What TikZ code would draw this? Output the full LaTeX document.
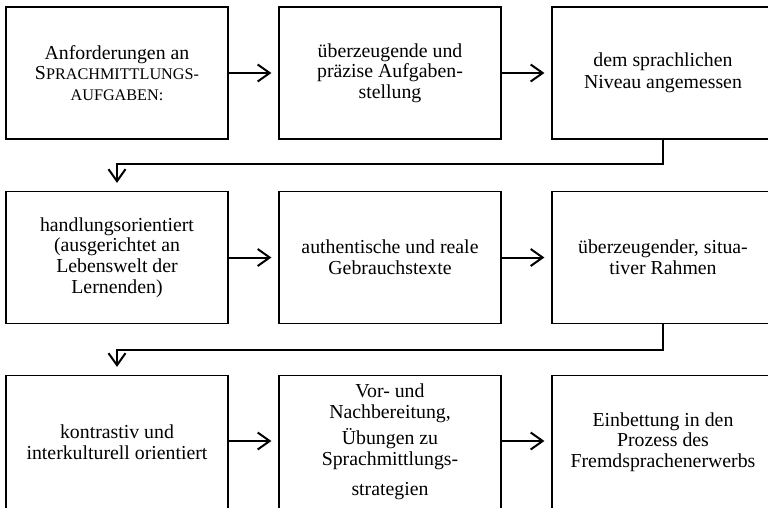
\documentclass[tikz,border=0pt]{standalone}
\usepackage{fontspec}
\setmainfont{Liberation Serif}
\usetikzlibrary{arrows.meta}
\begin{document}
\begin{tikzpicture}[x=1pt,y=-1pt,
  box/.style={draw, line width=1.2pt, minimum width=222pt, minimum height=132pt, inner sep=0pt, align=center, font=\fontsize{19.8}{20.6}\selectfont},
  conn/.style={line width=2pt, -{Straight Barb[length=12pt,width=17pt,line width=2pt]}},
  ]
\useasboundingbox (0,0) rectangle (768,507);
\clip (0,0) rectangle (768,507);
\newcommand{\smc}[1]{{\fontsize{16.2}{20.6}\selectfont #1}}
% row 1
\node[box] (b1) at (117,73) {Anforderungen an\\S\smc{PRACHMITTLUNGS-}\\\smc{AUFGABEN:}};
\node[box] (b2) at (390,73) {überzeugende und\\präzise Aufgaben-\\stellung};
\node[box] (b3) at (663,73) {dem sprachlichen\\[1.5pt]Niveau angemessen};
% row 2
\node[box] (b4) at (117,257.5) {handlungsorientiert\\(ausgerichtet an\\Lebenswelt der\\Lernenden)};
\node[box] (b5) at (390,257.5) {authentische und reale\\Gebrauchstexte};
\node[box] (b6) at (663,257.5) {überzeugender, situa-\\tiver Rahmen};
% row 3
\node[box, minimum height=133pt] (b7) at (117,442) {kontrastiv und\\interkulturell orientiert};
\node[box, minimum height=133pt] (b8) at (390,442) {Vor- und\\Nachbereitung,\\[6pt]Übungen zu\\Sprachmittlungs-\\[10pt]strategien};
\node[box, minimum height=133pt] (b9) at (663,442) {Einbettung in den\\Prozess des\\Fremdsprachenerwerbs};
% coordinates for turns
\coordinate (k1) at (117,164);
\coordinate (k2) at (117,350);
% connectors
\draw[conn, shorten >=7pt] (b1.east) -- (b2.west);
\draw[conn, shorten >=7pt] (b2.east) -- (b3.west);
\draw[conn, shorten >=8pt] (b3.south) |- (k1) -- (b4.north);
\draw[conn, shorten >=7pt] (b4.east) -- (b5.west);
\draw[conn, shorten >=7pt] (b5.east) -- (b6.west);
\draw[conn, shorten >=8pt] (b6.south) |- (k2) -- (b7.north);
\draw[conn, shorten >=7pt] ([yshift=1pt]b7.east) -- ([yshift=1pt]b8.west);
\draw[conn, shorten >=7pt] ([yshift=1pt]b8.east) -- ([yshift=1pt]b9.west);
\end{tikzpicture}
\end{document}
